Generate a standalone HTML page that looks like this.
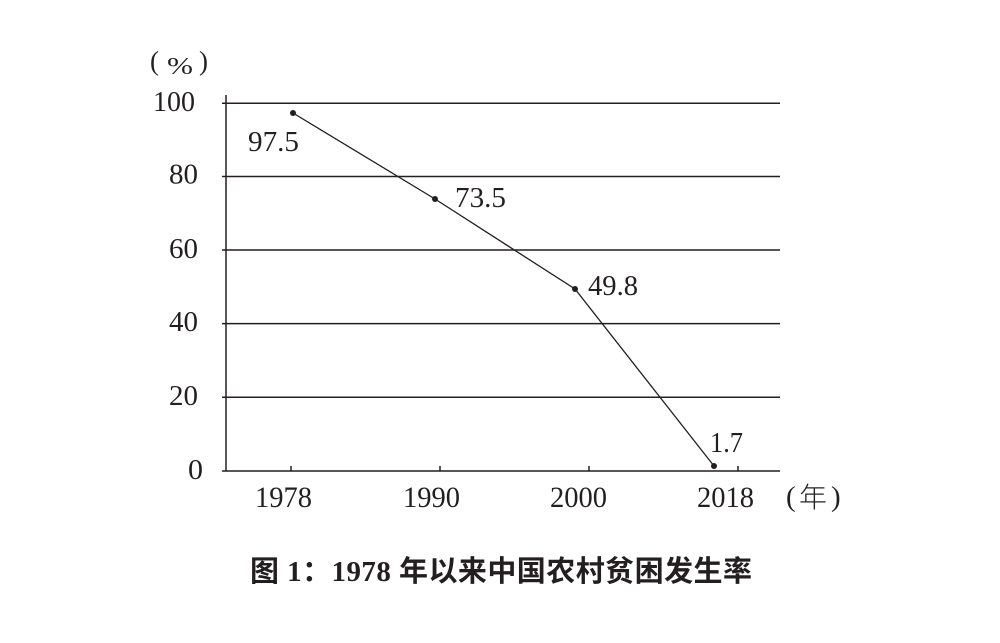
<!DOCTYPE html>
<html>
<head>
<meta charset="utf-8">
<style>
html,body{margin:0;padding:0;background:#fff;}
svg{display:block;}
.t{font-family:"Liberation Serif","Noto Serif CJK SC",serif;fill:#231f20;}
</style>
</head>
<body>
<svg width="1000" height="643" viewBox="0 0 1000 643" xmlns="http://www.w3.org/2000/svg">
<rect width="1000" height="643" fill="#fff"/>
<g stroke="#231f20" stroke-width="1.5" fill="none">
  <line x1="222" y1="103.3" x2="780" y2="103.3"/>
  <line x1="222" y1="176.5" x2="780" y2="176.5"/>
  <line x1="222" y1="250" x2="780" y2="250"/>
  <line x1="222" y1="323.6" x2="780" y2="323.6"/>
  <line x1="222" y1="397.3" x2="780" y2="397.3"/>
  <line x1="222" y1="471" x2="780" y2="471"/>
  <line x1="226" y1="95" x2="226" y2="471"/>
  <line x1="291" y1="466" x2="291" y2="471"/>
  <line x1="440" y1="466" x2="440" y2="471"/>
  <line x1="589" y1="466" x2="589" y2="471"/>
  <line x1="738" y1="466" x2="738" y2="471"/>
  <polyline points="293,113 435,199 575,289 714,466" stroke-width="1.3"/>
</g>
<g fill="#231f20">
  <circle cx="293" cy="113" r="3"/>
  <circle cx="435" cy="199" r="3"/>
  <circle cx="575" cy="289" r="3"/>
  <circle cx="714" cy="466" r="3"/>
</g>
<g class="t" font-size="29">
  <text x="153" y="111" textLength="42" lengthAdjust="spacingAndGlyphs">100</text>
  <text x="169" y="183.5" textLength="29" lengthAdjust="spacingAndGlyphs">80</text>
  <text x="169" y="258" textLength="29" lengthAdjust="spacingAndGlyphs">60</text>
  <text x="169" y="331" textLength="29" lengthAdjust="spacingAndGlyphs">40</text>
  <text x="169" y="405" textLength="29" lengthAdjust="spacingAndGlyphs">20</text>
  <text x="188" y="479" textLength="15" lengthAdjust="spacingAndGlyphs">0</text>

  <text x="255" y="507" font-size="30" textLength="57" lengthAdjust="spacingAndGlyphs">1978</text>
  <text x="403" y="507" font-size="30" textLength="57" lengthAdjust="spacingAndGlyphs">1990</text>
  <text x="550" y="507" font-size="30" textLength="57" lengthAdjust="spacingAndGlyphs">2000</text>
  <text x="697" y="507" font-size="30" textLength="57" lengthAdjust="spacingAndGlyphs">2018</text>

  <text x="248" y="151" textLength="51" lengthAdjust="spacingAndGlyphs">97.5</text>
  <text x="455" y="207" textLength="51" lengthAdjust="spacingAndGlyphs">73.5</text>
  <text x="588" y="295" textLength="50" lengthAdjust="spacingAndGlyphs">49.8</text>
  <text x="710" y="452" textLength="33" lengthAdjust="spacingAndGlyphs">1.7</text>

  <text x="150" y="70" font-size="27">(</text>
  <text x="167" y="74" font-size="24" textLength="26" lengthAdjust="spacingAndGlyphs">%</text>
  <text x="199" y="70" font-size="27">)</text>

  <text x="786" y="506">(</text>
  <text x="799" y="507" font-family="'Noto Sans CJK SC',sans-serif" font-weight="300" font-size="28">年</text>
  <text x="831" y="506">)</text>
</g>
<text x="250" y="581" textLength="502" lengthAdjust="spacing" font-size="29" font-weight="bold" fill="#231f20" font-family="'Liberation Serif','Noto Sans CJK SC',sans-serif">图 1：1978 年以来中国农村贫困发生率</text>
</svg>
</body>
</html>
